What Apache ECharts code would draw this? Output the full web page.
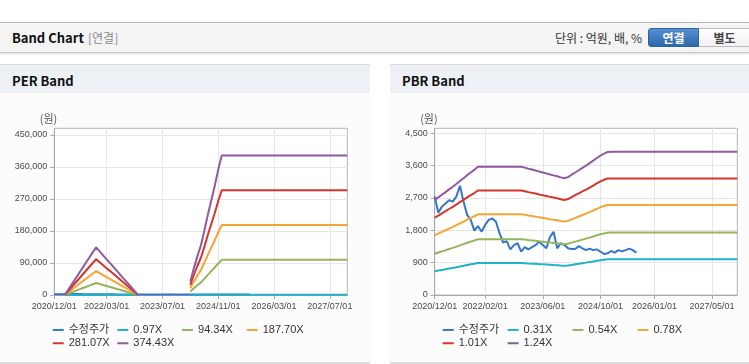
<!DOCTYPE html>
<html><head><meta charset="utf-8">
<script src="https://cdn.jsdelivr.net/npm/echarts@6/dist/echarts.min.js"></script>
<style>
html,body{margin:0;padding:0;width:749px;height:364px;overflow:hidden;background:#fff;font-family:"Noto Sans CJK KR","Noto Sans",sans-serif;}
.hdr{position:absolute;left:0;top:22px;width:749px;height:29px;background:#f4f4f4;border-top:1px solid #b9b9b9;border-bottom:1px solid #c6c6c6;box-shadow:0 1px 2px rgba(0,0,0,.15);}
.ttl{position:absolute;left:12px;top:0;line-height:29px;font-size:13px;font-weight:bold;color:#111;}
.sub{position:absolute;left:88px;top:0;line-height:29px;font-size:12px;color:#8a8a8a;}
.unit{position:absolute;right:107px;top:0;line-height:29px;font-size:12px;color:#333;}
.btn{position:absolute;top:5px;height:19px;line-height:17px;font-size:12px;font-weight:bold;text-align:center;box-sizing:border-box;}
.btn.on{left:648px;width:51px;background:linear-gradient(#5590d3,#2c68ac);color:#fff;border:1px solid #2e63a0;border-radius:3px 0 0 3px;}
.btn.off{left:699px;width:52px;background:linear-gradient(#fff,#f1f1f1);color:#444;border:1px solid #bdbdbd;border-left:none;}
.pnl{position:absolute;top:64px;height:297px;background:#fcfcfc;border-top:1px solid #dadada;border-bottom:2px solid #dedede;}
#p1{left:0;width:370px;}
#p2{left:390px;width:359px;}
.tb{position:relative;height:28px;background:#edf1f6;}
.tb span{position:absolute;left:12px;top:0;line-height:31px;font-size:13px;font-weight:bold;color:#111;}
#chart{position:absolute;left:0;top:0;width:749px;height:364px;z-index:2;}
</style></head>
<body>
<div class="hdr">
  <span class="ttl">Band Chart</span><span class="sub">[연결]</span>
  <span class="unit">단위 : 억원, 배, %</span>
  <div class="btn on">연결</div><div class="btn off">별도</div>
</div>
<div class="pnl" id="p1"><div class="tb"><span>PER Band</span></div></div>
<div class="pnl" id="p2"><div class="tb"><span>PBR Band</span></div></div>
<div id="chart"></div>
<script>
const months = [
'2020/12/01',
'2021/01/01','2021/02/01','2021/03/01','2021/04/01','2021/05/01','2021/06/01','2021/07/01','2021/08/01','2021/09/01','2021/10/01','2021/11/01','2021/12/01',
'2022/01/01','2022/02/01','2022/03/01','2022/04/01','2022/05/01','2022/06/01','2022/07/01','2022/08/01','2022/09/01','2022/10/01','2022/11/01','2022/12/01',
'2023/01/01','2023/02/01','2023/03/01','2023/04/01','2023/05/01','2023/06/01','2023/07/01','2023/08/01','2023/09/01','2023/10/01','2023/11/01','2023/12/01',
'2024/01/01','2024/02/01','2024/03/01','2024/04/01','2024/05/01','2024/06/01','2024/07/01','2024/08/01','2024/09/01','2024/10/01','2024/11/01','2024/12/01',
'2025/01/01','2025/02/01','2025/03/01','2025/04/01','2025/05/01','2025/06/01','2025/07/01','2025/08/01','2025/09/01','2025/10/01','2025/11/01','2025/12/01',
'2026/01/01','2026/02/01','2026/03/01','2026/04/01','2026/05/01','2026/06/01','2026/07/01','2026/08/01','2026/09/01','2026/10/01','2026/11/01','2026/12/01',
'2027/01/01','2027/02/01','2027/03/01','2027/04/01','2027/05/01','2027/06/01','2027/07/01','2027/08/01','2027/09/01','2027/10/01','2027/11/01','2027/12/01'
];
const perTickLabels = ['2020/12/01','2022/03/01','2023/07/01','2024/11/01','2026/03/01','2027/07/01'];
const pbrTickLabels = ['2020/12/01','2022/02/01','2023/06/01','2024/10/01','2026/01/01','2027/05/01'];
const perYTicks = [0,90000,180000,270000,360000,450000];
const pbrYTicks = [0,900,1800,2700,3600,4500];
const perNames = ['수정주가','0.97X','94.34X','187.70X','281.07X','374.43X'];
const pbrNames = ['수정주가','0.31X','0.54X','0.78X','1.01X','1.24X'];

const adjPrice = [
2740,2290,2460,2550,2640,2600,2740,3040,2600,2230,
2090,1790,1920,1760,1950,2090,2130,2040,1720,1460,
1500,1270,1390,1440,1210,1330,1270,1330,1390,1480,
1390,1300,1620,1760,1300,1440,1390,1300,1280,1280,
1360,1300,1250,1290,1250,1270,1210,1140,1160,1225,
1180,1250,1215,1250,1290,1250,1180,
null,null,null,null,null,null,null,null,null,null,
null,null,null,null,null,null,null,null,null,null,
null,null,null,null,null,null,null,null
];

const per097 = [
null,null,null,
0,39,78,116,155,194,233,272,310,347,318,289,260,232,203,174,145,115,87,58,29,0,
null,null,null,null,null,null,null,null,null,null,null,null,null,null,
97,194,281,359,466,582,689,795,912,
1017,1017,1017,1017,1017,1017,1017,1017,1017,1017,
1017,1017,1017,1017,1017,1017,1017,1017,1017,1017,
1017,1017,1017,1017,1017,1017,1017,1017,1017,1017,
1017,1017,1017,1017,1017,1017,1017
];
const per9434 = [
null,null,null,
0,3774,7547,11321,15094,18868,22642,26415,30189,33774,30944,28113,25283,22547,19717,16887,14057,11226,8491,5660,2830,0,
null,null,null,null,null,null,null,null,null,null,null,null,null,null,
9434,18868,27359,34906,45283,56604,66981,77359,88680,
98868,98868,98868,98868,98868,98868,98868,98868,98868,98868,
98868,98868,98868,98868,98868,98868,98868,98868,98868,98868,
98868,98868,98868,98868,98868,98868,98868,98868,98868,98868,
98868,98868,98868,98868,98868,98868,98868
];
const per18770 = [
null,null,null,
0,7508,15016,22524,30032,37540,45048,52556,60064,67197,61566,55935,50304,44860,39229,33598,27967,22336,16893,11262,5631,0,
null,null,null,null,null,null,null,null,null,null,null,null,null,null,
18770,37540,54433,69449,90096,112620,133267,153914,176438,
196710,196710,196710,196710,196710,196710,196710,196710,196710,196710,
196710,196710,196710,196710,196710,196710,196710,196710,196710,196710,
196710,196710,196710,196710,196710,196710,196710,196710,196710,196710,
196710,196710,196710,196710,196710,196710,196710
];
const per28107 = [
null,null,null,
0,11243,22486,33728,44971,56214,67457,78700,89942,100623,92191,83759,75327,67176,58744,50312,41879,33447,25296,16864,8432,0,
null,null,null,null,null,null,null,null,null,null,null,null,null,null,
28107,56214,81510,103996,134914,168642,199560,230477,264206,
294561,294561,294561,294561,294561,294561,294561,294561,294561,294561,
294561,294561,294561,294561,294561,294561,294561,294561,294561,294561,
294561,294561,294561,294561,294561,294561,294561,294561,294561,294561,
294561,294561,294561,294561,294561,294561,294561
];
const per37443 = [
null,null,null,
0,14977,29954,44932,59909,74886,89863,104840,119818,134046,122813,111580,100347,89489,78256,67023,55790,44557,33699,22466,11233,0,
null,null,null,null,null,null,null,null,null,null,null,null,null,null,
37443,74886,108585,138539,179726,224658,265845,307033,351964,
392403,392403,392403,392403,392403,392403,392403,392403,392403,392403,
392403,392403,392403,392403,392403,392403,392403,392403,392403,392403,
392403,392403,392403,392403,392403,392403,392403,392403,392403,392403,
392403,392403,392403,392403,392403,392403,392403
];

const pbr031 = [
660,679,698,716,735,753,772,794,812,834,853,871,893,
893,893,893,893,893,893,893,893,893,893,893,893,
887,879,873,867,859,853,846,839,832,826,818,812,
820,837,853,868,885,901,918,935,953,970,984,995,
997,997,997,997,997,997,997,997,997,997,
997,997,997,997,997,997,997,997,997,997,
997,997,997,997,997,997,997,997,997,997,
997,997,997,997,997,997
];
const pbr054 = [
1150,1183,1215,1247,1280,1312,1345,1382,1415,1453,1485,1517,1555,
1555,1555,1555,1555,1555,1555,1555,1555,1555,1555,1555,1555,
1544,1531,1520,1509,1496,1485,1474,1461,1450,1439,1426,1415,
1428,1458,1485,1512,1542,1569,1598,1628,1661,1690,1715,1733,
1740,1740,1740,1740,1740,1740,1740,1740,1740,1740,
1740,1740,1740,1740,1740,1740,1740,1740,1740,1740,
1740,1740,1740,1740,1740,1740,1740,1740,1740,1740,
1740,1740,1740,1740,1740,1740
];
const pbr078 = [
1661,1708,1755,1802,1849,1895,1942,1997,2044,2098,2145,2192,2246,
2246,2246,2246,2246,2246,2246,2246,2246,2246,2246,2246,2246,
2231,2211,2196,2180,2161,2145,2129,2110,2094,2079,2059,2044,
2063,2106,2145,2184,2227,2266,2309,2352,2399,2441,2477,2504,
2508,2508,2508,2508,2508,2508,2508,2508,2508,2508,
2508,2508,2508,2508,2508,2508,2508,2508,2508,2508,
2508,2508,2508,2508,2508,2508,2508,2508,2508,2508,
2508,2508,2508,2508,2508,2508
];
const pbr101 = [
2151,2212,2273,2333,2394,2454,2515,2586,2646,2717,2778,2838,2909,
2909,2909,2909,2909,2909,2909,2909,2909,2909,2909,2909,2909,
2889,2863,2843,2823,2798,2778,2757,2732,2712,2692,2666,2646,
2672,2727,2778,2828,2884,2934,2990,3045,3106,3161,3207,3242,
3245,3245,3245,3245,3245,3245,3245,3245,3245,3245,
3245,3245,3245,3245,3245,3245,3245,3245,3245,3245,
3245,3245,3245,3245,3245,3245,3245,3245,3245,3245,
3245,3245,3245,3245,3245,3245
];
const pbr124 = [
2641,2716,2790,2864,2939,3013,3088,3174,3249,3336,3410,3484,3571,
3571,3571,3571,3571,3571,3571,3571,3571,3571,3571,3571,3571,
3546,3515,3491,3466,3435,3410,3385,3354,3329,3305,3274,3249,
3280,3348,3410,3472,3540,3602,3670,3739,3813,3881,3937,3980,
3987,3987,3987,3987,3987,3987,3987,3987,3987,3987,
3987,3987,3987,3987,3987,3987,3987,3987,3987,3987,
3987,3987,3987,3987,3987,3987,3987,3987,3987,3987,
3987,3987,3987,3987,3987,3987
];

const colors = ['#3476c8','#22b2c6','#93b55d','#f5a535','#d7342b','#8f5aa0'];
const perData = [adjPrice, per097, per9434, per18770, per28107, per37443];
const pbrData = [adjPrice, pbr031, pbr054, pbr078, pbr101, pbr124];

const labelFont = 'Liberation Sans, Arial, sans-serif';
function xAxisCfg(gridIndex, ticks) {
  const f = (idx, val) => ticks.indexOf(val) >= 0;
  return {
    type: 'category', gridIndex, data: months, boundaryGap: false,
    axisLine: {lineStyle: {color: '#aaaaaa'}},
    axisTick: {show: true, interval: f, length: 4, lineStyle: {color: '#aaaaaa'}},
    axisLabel: {interval: f, hideOverlap: false, margin: 7, fontSize: 9, color: '#4a4a4a', fontFamily: labelFont},
    splitLine: {show: true, interval: f, lineStyle: {color: '#e6e6e6'}}
  };
}
function yAxisCfg(gridIndex, max, interval, ticks) {
  return {
    type: 'value', gridIndex, min: 0, max, interval,
    name: '(원)', nameLocation: 'end', nameGap: 4,
    nameTextStyle: {fontSize: 11, color: '#555', align: 'right', verticalAlign: 'bottom', fontFamily: 'Noto Sans CJK KR', padding: [0, -3, 0, 0]},
    axisLine: {show: true, lineStyle: {color: '#aaaaaa'}},
    axisTick: {show: true, length: 4, customValues: ticks, lineStyle: {color: '#aaaaaa'}},
    axisLabel: {margin: 7, fontSize: 9, color: '#4a4a4a', fontFamily: labelFont, customValues: ticks,
      formatter: v => (v % interval === 0 ? v.toLocaleString('en-US') : '')},
    splitLine: {show: true, lineStyle: {color: '#e6e6e6'}}
  };
}
function legendCfg(left, names, colW) {
  return {
    data: names, left, top: 323.3, width: colW * 4 + 2, padding: 0, itemGap: 0,
    itemWidth: 11, itemHeight: 2, icon: 'rect', selectedMode: false,
    textStyle: {fontSize: 11, color: '#333', fontFamily: 'Liberation Sans, Noto Sans CJK KR, sans-serif', width: colW - 16, lineHeight: 13.3}
  };
}
const series = [];
perNames.forEach((n, k) => series.push({
  name: n, type: 'line', xAxisIndex: 0, yAxisIndex: 0, data: perData[k], showSymbol: false, symbol: 'none',
  lineStyle: {width: 2, color: colors[k]}, itemStyle: {color: colors[k]}, emphasis: {disabled: true}, connectNulls: false
}));
pbrNames.forEach((n, k) => series.push({
  name: n, type: 'line', xAxisIndex: 1, yAxisIndex: 1, data: pbrData[k], showSymbol: false, symbol: 'none',
  lineStyle: {width: 2, color: colors[k]}, itemStyle: {color: colors[k]}, emphasis: {disabled: true}, connectNulls: false
}));

const chart = echarts.init(document.getElementById('chart'), null, {renderer: 'canvas'});
chart.setOption({
  animation: false,
  textStyle: {fontFamily: labelFont},
  grid: [
    {left: 54.3, top: 128.3, width: 293, height: 166.7, show: true, backgroundColor: '#ffffff', borderColor: '#b4b4b4', borderWidth: 1},
    {left: 434.7, top: 128.3, width: 302.6, height: 166.7, show: true, backgroundColor: '#ffffff', borderColor: '#b4b4b4', borderWidth: 1}
  ],
  xAxis: [xAxisCfg(0, perTickLabels), xAxisCfg(1, pbrTickLabels)],
  yAxis: [yAxisCfg(0, 468750, 90000, perYTicks), yAxisCfg(1, 4640, 900, pbrYTicks)],
  legend: [legendCfg(52.7, perNames, 64.67), legendCfg(442.7, pbrNames, 64.9)],
  series
});
</script>
</body></html>
